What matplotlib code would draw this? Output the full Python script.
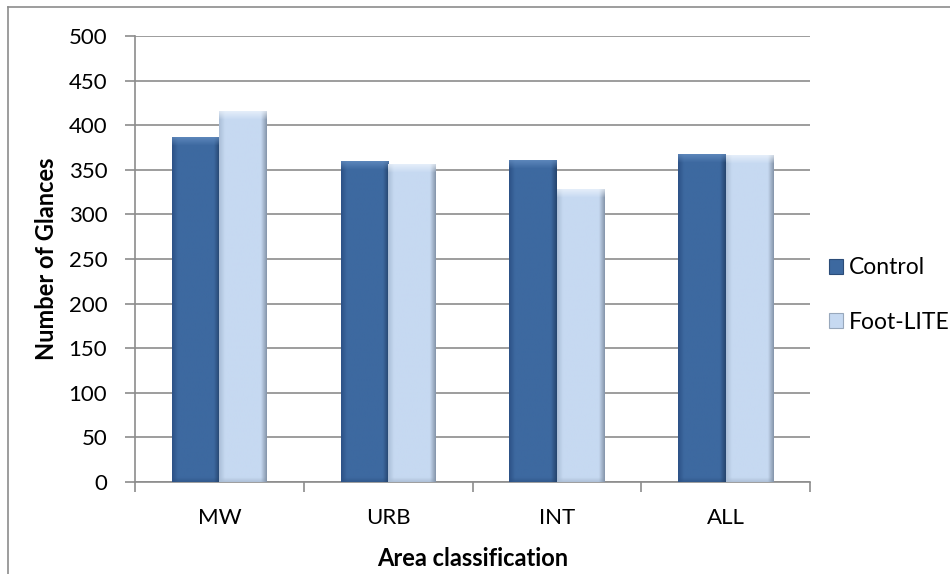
import numpy as np
import matplotlib
matplotlib.use("Agg")
import matplotlib.pyplot as plt
from matplotlib.patches import Patch
from matplotlib.colors import to_rgb

categories = ["MW", "URB", "INT", "ALL"]
series_names = ["Control", "Foot-LITE"]
control = [387, 360, 361, 368]
foot_lite = [416, 357, 329, 367]
y_ticks = [0, 50, 100, 150, 200, 250, 300, 350, 400, 450, 500]
x_title = "Area classification"
y_title = "Number of Glances"

plt.rcParams['font.family'] = ['Lato', 'DejaVu Sans']

W, H, DPI = 950, 574, 100
fig = plt.figure(figsize=(W / DPI, H / DPI), dpi=DPI)
ax = fig.add_axes([135 / W, 1 - 482 / H, (810 - 135) / W, (482 - 36) / H])

x = np.arange(len(categories))
bw = 0.282
styles = {
    "Control": dict(center="#3D69A0", left="#2C5185", right="#24436C", top="#6A93C6", bottom="#2E5283", edge="#2B4C78"),
    "Foot-LITE": dict(center="#C6D9F1", left="#A9BDD6", right="#8393A8", top="#F2F7FD", bottom="#A3B5CB", edge="#98A8BC"),
}

def bevel_image(st, wpx, hpx):
    wpx = max(int(wpx), 4)
    hpx = max(int(hpx), 4)
    c = np.array(to_rgb(st["center"]))
    l = np.array(to_rgb(st["left"]))
    r = np.array(to_rgb(st["right"]))
    t = np.array(to_rgb(st["top"]))
    b = np.array(to_rgb(st["bottom"]))
    img = np.tile(c, (hpx, wpx, 1))
    bev = 6.0
    xs = np.arange(wpx) + 0.5
    ys = np.arange(hpx) + 0.5
    X, Y = np.meshgrid(xs, ys)
    wl = np.clip(1 - X / bev, 0, 1)
    wr = np.clip(1 - (wpx - X) / bev, 0, 1)
    wb = np.clip(1 - (hpx - Y) / (bev * 0.8), 0, 1) * 0.7
    wt = np.clip(1 - Y / (bev * 1.6), 0, 1) * 0.8
    for w, col in ((wb, b), (wl, l), (wr, r), (wt, t)):
        img = img * (1 - w[..., None]) + col * w[..., None]
    return img

ax.set_xlim(-0.5, len(categories) - 0.5)
ax.set_ylim(0, 500)
px_per_unit = (482 - 36) / 500
px_per_x = (810 - 135) / len(categories)

for i, (name, vals) in enumerate(zip(series_names, [control, foot_lite])):
    st = styles[name]
    offs = (i - 0.5) * bw
    bars = ax.bar(x + offs, vals, width=bw, color=st["center"], edgecolor="none", zorder=3)
    for bb, v in zip(bars, vals):
        img = bevel_image(st, bw * px_per_x, v * px_per_unit)
        im = ax.imshow(img, extent=(bb.get_x(), bb.get_x() + bw, 0, v), aspect="auto",
                       zorder=3.5, interpolation="bilinear", origin="upper")
        im.set_clip_path(bb)
ax.set_xlim(-0.5, len(categories) - 0.5)
ax.set_ylim(0, 500)

ax.set_yticks(y_ticks)
ax.set_yticklabels([str(v) for v in y_ticks])
ax.yaxis.grid(True, color="#8C8C8C", linewidth=1.2, zorder=0)
ax.set_axisbelow(True)
ax.set_xticks(x)
ax.set_xticklabels(categories)
ax.set_xticks(np.arange(len(categories) + 1) - 0.5, minor=True)
ax.tick_params(axis="x", which="major", length=0, pad=19, labelsize=16)
ax.tick_params(axis="x", which="minor", length=7, width=1.2, color="#8C8C8C", direction="out")
ax.tick_params(axis="y", length=7, width=1.2, color="#8C8C8C", direction="out", pad=13, labelsize=16)
for s in ["top", "right"]:
    ax.spines[s].set_visible(False)
for s in ["left", "bottom"]:
    ax.spines[s].set_color("#8C8C8C")
    ax.spines[s].set_linewidth(1.2)

fig.text(47 / W, 1 - 259 / H, y_title, rotation=90, ha="center", va="center",
         fontsize=17, fontweight="bold")
fig.text(472.5 / W, 1 - 559 / H, x_title, ha="center", va="center",
         fontsize=17, fontweight="bold")

handles = [Patch(facecolor=styles[n]["center"], edgecolor=styles[n]["edge"], linewidth=0.8) for n in series_names]
fig.legend(handles, series_names, loc="center left", bbox_to_anchor=(829 / W, 1 - 295 / H),
           frameon=False, fontsize=16.5, handlelength=0.6, handleheight=0.6,
           handletextpad=0.25, labelspacing=1.45, borderpad=0, borderaxespad=0)

# chart frame (left and top edges visible)
fig.add_artist(plt.Line2D([8 / W, 8 / W], [0, 1 - 7 / H], transform=fig.transFigure, color="#8C8C8C", lw=1.2))
fig.add_artist(plt.Line2D([8 / W, 1], [1 - 7 / H, 1 - 7 / H], transform=fig.transFigure, color="#8C8C8C", lw=1.2))

fig.savefig("out.png", dpi=DPI)
